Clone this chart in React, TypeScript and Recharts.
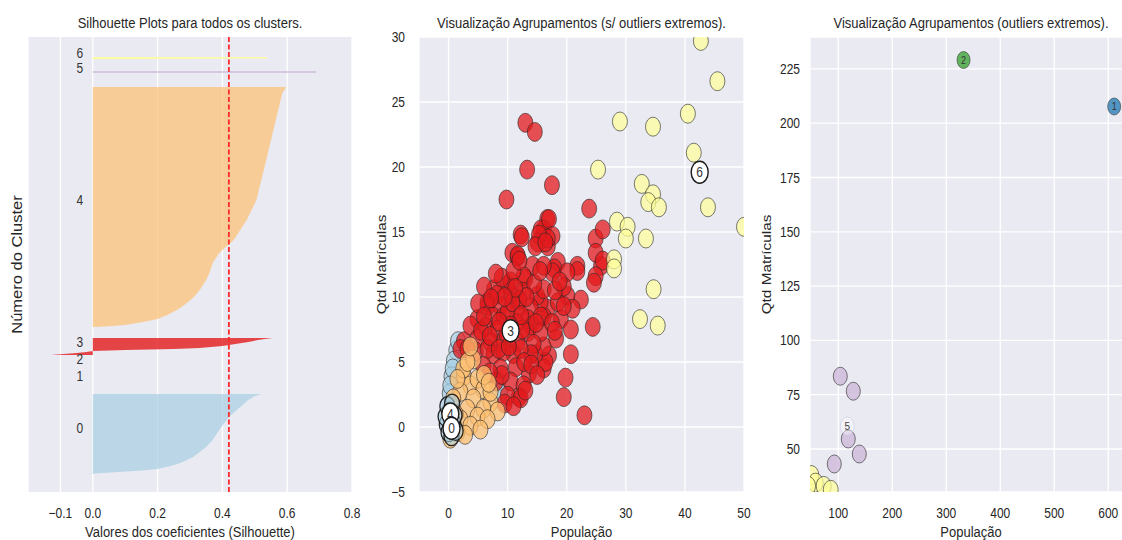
import React from 'react';
import {
  ComposedChart,
  ScatterChart,
  Area,
  Scatter,
  XAxis,
  YAxis,
  CartesianGrid,
  ReferenceLine,
} from 'recharts';

const FONT = '"Liberation Sans", Arial, Helvetica, sans-serif';
const INK = '#262626';
const PANEL_BG = '#eaeaf2';
const STRETCH = 1.18;

// cluster palette
const C0 = '#a6cee3';
const C1 = '#1f78b4';
const C2 = '#33a02c';
const C3 = '#e31a1c';
const C4 = '#fdbf6f';
const C5 = '#cab2d6';
const C6 = '#ffff99';

type Pt = [number, number];

// ---------- silhouette panel: [row position, coefficient], bottom to top ----------
const silhouetteTicks = [-0.1, 0, 0.2, 0.4, 0.6, 0.8];
const silhouetteMean = 0.42;

const silhouette0: Pt[] = [
  [9.5, -0.02], [10.0, 0.03], [10.5, 0.08], [11.1, 0.13], [11.6, 0.17], [12.1, 0.2],
  [13.7, 0.24], [15.3, 0.27], [18.5, 0.31], [21.1, 0.33], [23.7, 0.35], [27.4, 0.37],
  [32.7, 0.39], [39.6, 0.42], [44.8, 0.455], [48.5, 0.48], [50.6, 0.5], [51.7, 0.52],
];
const silhouette3: Pt[] = [
  [72.3, -0.13], [72.8, -0.09], [73.3, -0.05], [73.8, -0.02], [74.4, 0.0], [74.9, 0.1],
  [75.4, 0.25], [75.9, 0.33], [77.0, 0.4], [78.1, 0.44], [79.1, 0.48], [80.2, 0.51],
  [80.7, 0.53], [81.2, 0.555],
];
const silhouette4: Pt[] = [
  [87.0, 0.0], [87.4, 0.05], [88.1, 0.1], [89.7, 0.155], [91.2, 0.2], [93.4, 0.23],
  [96.5, 0.265], [99.7, 0.29], [103.4, 0.315], [106.5, 0.33], [111.8, 0.35], [115.5, 0.36],
  [120.8, 0.37], [126.1, 0.39], [129.2, 0.41], [132.9, 0.435], [138.2, 0.455], [143.5, 0.475],
  [154.0, 0.505], [171.4, 0.53], [185.7, 0.55], [199.9, 0.57], [210.4, 0.585], [213.6, 0.597],
];
const silhouette5: Pt[] = [[221.1, 0.69], [221.9, 0.69]];
const silhouette6: Pt[] = [[228.3, -0.03], [228.7, 0.537], [229.4, 0.537]];

const clusterNames = ['0', '1', '2', '3', '4', '5', '6'];
const clusterLabelPos = [33.6, 61.2, 70.0, 79.3, 154.0, 223.5, 231.4];
const clusterLabelX = -0.05;

// ---------- main scatter panel: [População, Qtd Matrículas] ----------
const mainRed: Pt[] = [
  [13.0, 23.4], [14.6, 22.7], [13.3, 19.8], [17.5, 18.6], [9.8, 17.5], [16.7, 16.0], [23.8, 16.8],
  [12.2, 14.8], [16.1, 15.2], [12.4, 14.6], [15.6, 15.2], [17.0, 16.0], [17.6, 14.7], [15.1, 14.2],
  [16.8, 13.9], [10.8, 13.4], [11.7, 13.1], [14.2, 12.4], [18.5, 12.7], [21.8, 12.4], [25.8, 12.4],
  [24.9, 14.5], [26.1, 15.2], [24.9, 13.4], [26.1, 12.8], [24.9, 11.6], [24.6, 11.1], [21.8, 12.0],
  [17.9, 12.2], [16.8, 14.5],
  [22.4, 9.8], [20.1, 10.1], [21.0, 9.1], [19.0, 8.3], [20.7, 7.5], [24.4, 7.7], [17.0, 5.5],
  [20.7, 5.6], [16.1, 4.5], [19.8, 3.8], [19.5, 2.3], [23.0, 0.9], [16.8, 9.1], [16.1, 8.5],
  [16.4, 5.0], [13.6, 4.1], [11.9, 2.3], [14.7, 5.6], [16.1, 6.2], [13.9, 7.8], [15.6, 9.6],
  [18.5, 9.6], [20.1, 11.9], [17.6, 11.9], [13.0, 11.4], [10.0, 10.9], [7.7, 10.6], [6.6, 9.6],
  [4.9, 8.3], [2.6, 6.6], [2.0, 6.0],
  [15.3, 14.8], [11.7, 13.2], [14.7, 13.9], [16.4, 14.2], [16.1, 12.4], [12.7, 11.6], [10.5, 10.2],
  [12.7, 10.4], [15.0, 10.1], [16.1, 10.6], [8.3, 10.2], [6.6, 9.3], [8.8, 9.3], [11.7, 9.1],
  [13.9, 9.2], [7.5, 8.5], [9.3, 8.5], [13.4, 8.3], [15.6, 8.5], [3.7, 7.8], [6.3, 7.7], [8.3, 7.5],
  [13.4, 7.3], [15.6, 7.3], [4.9, 6.8], [7.1, 6.5], [9.3, 6.6], [11.7, 6.5], [14.4, 6.4], [4.6, 5.8],
  [7.6, 5.6], [11.0, 5.6], [13.9, 5.6],
  [6.6, 6.0], [9.3, 5.8], [12.2, 6.0], [5.9, 4.7], [8.8, 4.5], [11.4, 4.6], [8.0, 3.5], [10.5, 3.5],
  [12.7, 3.2], [10.0, 2.4], [12.2, 2.2], [9.5, 1.8],
  [11.5, 8.0], [10.0, 8.8], [12.5, 7.5], [9.8, 7.2], [12.0, 9.8], [10.5, 11.2], [9.0, 11.5],
  [11.0, 12.0], [19.5, 10.8], [18.0, 10.5], [17.5, 8.0], [18.2, 6.8], [14.5, 11.0], [5.5, 7.4],
  [3.2, 6.0],
  [5.0, 9.5], [6.0, 10.8], [7.0, 7.0], [8.5, 6.0], [10.2, 6.2], [12.8, 5.0], [14.0, 4.8], [9.0, 4.0],
  [7.0, 4.2], [6.0, 8.5], [10.8, 9.6], [12.3, 8.6], [14.8, 8.0], [13.2, 10.0], [11.3, 10.7],
  [9.5, 10.0], [8.0, 11.8], [12.0, 12.8], [15.5, 12.0], [18.8, 11.2], [19.5, 9.3], [18.0, 7.4],
  [15.0, 4.0], [13.0, 2.8], [11.0, 1.6], [10.5, 7.8], [8.6, 8.1], [7.2, 9.9],
];
const mainYellow: Pt[] = [
  [42.7, 29.7], [45.5, 26.6], [40.5, 24.1], [29.0, 23.5], [34.6, 23.1], [41.5, 21.1], [25.3, 19.8],
  [32.7, 18.7], [34.6, 17.9], [33.8, 17.3], [35.6, 16.9], [43.9, 16.9], [50.0, 15.4], [28.5, 15.8],
  [30.3, 15.4], [30.0, 14.5], [33.4, 14.5], [28.0, 12.9], [28.0, 12.2], [34.7, 10.6], [32.4, 8.3],
  [35.4, 7.8],
];
const mainBlue: Pt[] = [
  [1.3, 5.9], [0.9, 5.1], [0.5, 3.9], [0.2, 2.6], [1.6, 6.6], [0.7, 4.5], [8.4, 3.5], [8.7, 2.6],
  [0.3, 3.2],
];
const mainOrange: Pt[] = [
  [2.6, 3.9], [3.7, 3.2], [2.0, 2.7], [4.9, 3.7], [5.9, 2.9], [4.2, 2.2], [7.1, 1.9], [5.9, 1.4],
  [3.2, 1.4], [4.9, 0.8], [2.0, 0.6], [3.7, 0.1], [1.5, -0.4], [0.3, -0.9], [2.5, 4.5], [1.5, 3.7],
  [0.8, 2.2], [7.1, 2.7], [8.3, 1.2], [6.6, 0.6], [5.4, -0.2], [4.2, 5.2], [3.2, 5.0], [3.7, 6.2],
  [6.0, 4.0], [2.8, -0.6], [1.2, 1.0], [6.8, 3.4],
];
const mainBlueCore: Pt[] = [
  [-0.3, 0.2], [0.0, -0.4], [0.5, -0.7], [-0.5, 0.8], [0.2, 1.2], [0.8, 0.3], [1.2, -0.3],
  [-0.2, 1.6], [0.6, 1.8], [1.0, 0.9],
];
const mainCentreNames = ['4', '0', '3', '6'];
const mainCentres: Pt[] = [[0.3, 1.0], [0.5, -0.1], [10.5, 7.4], [42.5, 19.6]];

const mainXTicks = [0, 10, 20, 30, 40, 50];
const mainYTicks = [-5, 0, 5, 10, 15, 20, 25, 30];

// ---------- extreme outliers panel ----------
const outYellow: Pt[] = [[50, 38], [58, 34.5], [73, 33], [86, 31.2], [44, 33]];
const outPurple: Pt[] = [[103.7, 83.5], [127.8, 76.6], [118.5, 54.6], [138.9, 47.7], [92.6, 43.1]];
const outCentre5: Pt[] = [[116.7, 60.6]];
const outCluster1: Pt[] = [[611, 207.7]];
const outCluster2: Pt[] = [[332, 229.1]];

const outXTicks = [100, 200, 300, 400, 500, 600];
const outYTicks = [50, 75, 100, 125, 150, 175, 200, 225];

// ---------- helpers ----------
const toRows = (pts: Pt[]) => pts.map(([pos, v]) => ({ pos, v }));
const toXY = (pts: Pt[], names?: string[]) =>
  pts.map(([x, y], i) => ({ x, y, label: names ? names[i] : '' }));
const minus = (s: string) => s.replace('-', '\u2212');

function StretchText({ x, y, anchor = 'middle', size = 12, dy = '0', fill = INK, children }: any) {
  return (
    <text
      transform={`translate(${x},${y}) scale(1,${STRETCH})`}
      textAnchor={anchor}
      fontSize={size}
      fill={fill}
      dy={dy}
      fontFamily={FONT}
    >
      {children}
    </text>
  );
}

const xTick = (fmt: (v: number) => string) => (p: any) => (
  <StretchText x={p.x} y={p.y} dy="0.71em">
    {fmt(p.payload.value)}
  </StretchText>
);

const yTick = (p: any) => (
  <StretchText x={p.x} y={p.y} anchor="end" dy="0.355em">
    {minus(String(p.payload.value))}
  </StretchText>
);

const bottomLabel = (text: string) => (p: any) => {
  const vb = p.viewBox;
  return (
    <StretchText x={vb.x + vb.width / 2} y={vb.y + vb.height - 3} size={13}>
      {text}
    </StretchText>
  );
};

const sideLabel = (text: string, size: number) => (p: any) => {
  const vb = p.viewBox;
  const cx = vb.x + vb.width / 2;
  const cy = vb.y + vb.height / 2;
  return (
    <text
      transform={`translate(${cx},${cy}) rotate(-90) scale(${STRETCH},1)`}
      textAnchor="middle"
      dy="0.355em"
      fontSize={size}
      fill={INK}
      fontFamily={FONT}
    >
      {text}
    </text>
  );
};

const blob = (fill: string, rx = 7.5, ry = 9.5, opacity = 0.7, edge = '#262626', edgeOpacity = 0.6, edgeWidth = 1) => (p: any) => (
  <ellipse
    cx={p.cx}
    cy={p.cy}
    rx={rx}
    ry={ry}
    fill={fill}
    fillOpacity={opacity}
    stroke={edge}
    strokeOpacity={edgeOpacity}
    strokeWidth={edgeWidth}
  />
);

const centreMark = (p: any) => (
  <g>
    <ellipse cx={p.cx} cy={p.cy} rx={8.5} ry={11} fill="#ffffff" stroke="#1a1a1a" strokeWidth={1.4} />
    <StretchText x={p.cx} y={p.cy} dy="0.355em" size={12} fill="#333">
      {p.payload.label}
    </StretchText>
  </g>
);

const colouredCentre = (fill: string) => (p: any) => (
  <g>
    <ellipse
      cx={p.cx}
      cy={p.cy}
      rx={6.5}
      ry={8.5}
      fill={fill}
      fillOpacity={0.75}
      stroke="#3a3a3a"
      strokeOpacity={0.6}
      strokeWidth={1}
    />
    <StretchText x={p.cx} y={p.cy} dy="0.355em" size={9} fill="#333">
      {p.payload.label}
    </StretchText>
  </g>
);

const faintCentre = (p: any) => (
  <g>
    <ellipse
      cx={p.cx}
      cy={p.cy}
      rx={7}
      ry={9}
      fill="#ffffff"
      fillOpacity={0.4}
      stroke="#c9d2e6"
      strokeOpacity={0.7}
      strokeWidth={1}
    />
    <StretchText x={p.cx} y={p.cy} dy="0.355em" size={10} fill="#444">
      {p.payload.label}
    </StretchText>
  </g>
);

const clusterLabelShape = (p: any) => (
  <StretchText x={p.cx} y={p.cy} anchor="start" dy="0.355em" size={12} fill="#333">
    {p.payload.name}
  </StretchText>
);

const titleStyle = (left: number, width: number): React.CSSProperties => ({
  position: 'absolute',
  left,
  width,
  top: 16,
  textAlign: 'center',
  fontFamily: FONT,
  fontSize: 13,
  lineHeight: '16px',
  color: INK,
  whiteSpace: 'nowrap',
  transform: `scaleY(${STRETCH})`,
  transformOrigin: '50% 12px',
});

const MARGIN = { top: 37, right: 10, bottom: 0, left: 0 };

export default function App() {
  const labelRows = clusterNames.map((name, i) => ({ v: clusterLabelX, pos: clusterLabelPos[i], name }));

  return (
    <div
      style={{
        position: 'absolute',
        left: 0,
        top: 0,
        width: 1122,
        height: 540,
        overflow: 'hidden',
        background: '#ffffff',
        fontFamily: FONT,
      }}
    >
      <div style={titleStyle(28, 324)}>Silhouette Plots para todos os clusters.</div>
      <div style={titleStyle(419, 325)}>Visualização Agrupamentos (s/ outliers extremos).</div>
      <div style={titleStyle(810, 322)}>Visualização Agrupamentos (outliers extremos).</div>

      {/* silhouette coefficients per cluster */}
      <div style={{ position: 'absolute', left: 6, top: 0 }}>
        <ComposedChart layout="vertical" width={356} height={540} margin={MARGIN}>
          <CartesianGrid horizontal={false} stroke="#ffffff" strokeWidth={1.3} fill={PANEL_BG} fillOpacity={1} />
          <XAxis
            type="number"
            dataKey="v"
            domain={[-0.2, 0.8]}
            ticks={silhouetteTicks}
            allowDataOverflow
            interval={0}
            axisLine={false}
            tickLine={false}
            tickSize={0}
            tickMargin={16}
            height={48}
            tick={xTick((v) => minus(v.toFixed(1)))}
            label={bottomLabel('Valores dos coeficientes (Silhouette)')}
          />
          <YAxis
            type="number"
            dataKey="pos"
            domain={[0, 240]}
            reversed
            allowDataOverflow
            width={22}
            axisLine={false}
            tickLine={false}
            tick={false}
            label={sideLabel('Número do Cluster', 14)}
          />
          <Area data={toRows(silhouette0)} dataKey="v" type="linear" fill={C0} fillOpacity={0.7} stroke="none" isAnimationActive={false} />
          <Area data={toRows(silhouette3)} dataKey="v" type="linear" fill={C3} fillOpacity={0.8} stroke="none" isAnimationActive={false} />
          <Area data={toRows(silhouette4)} dataKey="v" type="linear" fill={C4} fillOpacity={0.7} stroke="none" isAnimationActive={false} />
          <Area data={toRows(silhouette5)} dataKey="v" type="linear" fill={C5} fillOpacity={0.8} stroke="none" isAnimationActive={false} />
          <Area data={toRows(silhouette6)} dataKey="v" type="linear" fill={C6} fillOpacity={0.85} stroke="none" isAnimationActive={false} />
          <ReferenceLine x={silhouetteMean} stroke="#ff2a2a" strokeWidth={1.8} strokeDasharray="5 2.5" />
          <Scatter data={labelRows} shape={clusterLabelShape} isAnimationActive={false} />
        </ComposedChart>
      </div>

      {/* clusters without extreme outliers */}
      <div style={{ position: 'absolute', left: 343, top: 0 }}>
        <ScatterChart width={411} height={540} margin={MARGIN}>
          <CartesianGrid stroke="#ffffff" strokeWidth={1.3} fill={PANEL_BG} fillOpacity={1} />
          <XAxis
            type="number"
            dataKey="x"
            domain={[-5, 50]}
            ticks={mainXTicks}
            allowDataOverflow
            interval={0}
            axisLine={false}
            tickLine={false}
            tickSize={0}
            tickMargin={16}
            height={48}
            tick={xTick((v) => minus(String(v)))}
            label={bottomLabel('População')}
          />
          <YAxis
            type="number"
            dataKey="y"
            domain={[-5, 30]}
            ticks={mainYTicks}
            allowDataOverflow
            interval={0}
            width={76}
            axisLine={false}
            tickLine={false}
            tickSize={0}
            tickMargin={14}
            tick={yTick}
            label={sideLabel('Qtd Matrículas', 13)}
          />
          <Scatter data={toXY(mainBlue)} shape={blob(C0)} isAnimationActive={false} />
          <Scatter data={toXY(mainRed)} shape={blob(C3, 7.5, 9.5, 0.75)} isAnimationActive={false} />
          <Scatter data={toXY(mainYellow)} shape={blob(C6)} isAnimationActive={false} />
          <Scatter data={toXY(mainOrange)} shape={blob(C4, 7.5, 9.5, 0.75)} isAnimationActive={false} />
          <Scatter data={toXY(mainBlueCore)} shape={blob(C0, 7.5, 9.5, 0.6, '#111111', 0.9, 1.3)} isAnimationActive={false} />
          <Scatter data={toXY(mainCentres, mainCentreNames)} shape={centreMark} isAnimationActive={false} />
        </ScatterChart>
      </div>

      {/* extreme outliers */}
      <div style={{ position: 'absolute', left: 722, top: 0 }}>
        <ScatterChart width={420} height={540} margin={MARGIN}>
          <CartesianGrid stroke="#ffffff" strokeWidth={1.3} fill={PANEL_BG} fillOpacity={1} />
          <XAxis
            type="number"
            dataKey="x"
            domain={[47.6, 644]}
            ticks={outXTicks}
            allowDataOverflow
            interval={0}
            axisLine={false}
            tickLine={false}
            tickSize={0}
            tickMargin={16}
            height={48}
            tick={xTick((v) => String(v))}
            label={bottomLabel('População')}
          />
          <YAxis
            type="number"
            dataKey="y"
            domain={[30.2, 239.7]}
            ticks={outYTicks}
            allowDataOverflow
            interval={0}
            width={88}
            axisLine={false}
            tickLine={false}
            tickSize={0}
            tickMargin={10}
            tick={yTick}
            label={sideLabel('Qtd Matrículas', 13)}
          />
          <Scatter data={toXY(outYellow)} shape={blob(C6)} isAnimationActive={false} />
          <Scatter data={toXY(outPurple)} shape={blob(C5, 7, 9)} isAnimationActive={false} />
          <Scatter data={toXY(outCentre5, ['5'])} shape={faintCentre} isAnimationActive={false} />
          <Scatter data={toXY(outCluster2, ['2'])} shape={colouredCentre(C2)} isAnimationActive={false} />
          <Scatter data={toXY(outCluster1, ['1'])} shape={colouredCentre(C1)} isAnimationActive={false} />
        </ScatterChart>
      </div>
    </div>
  );
}
